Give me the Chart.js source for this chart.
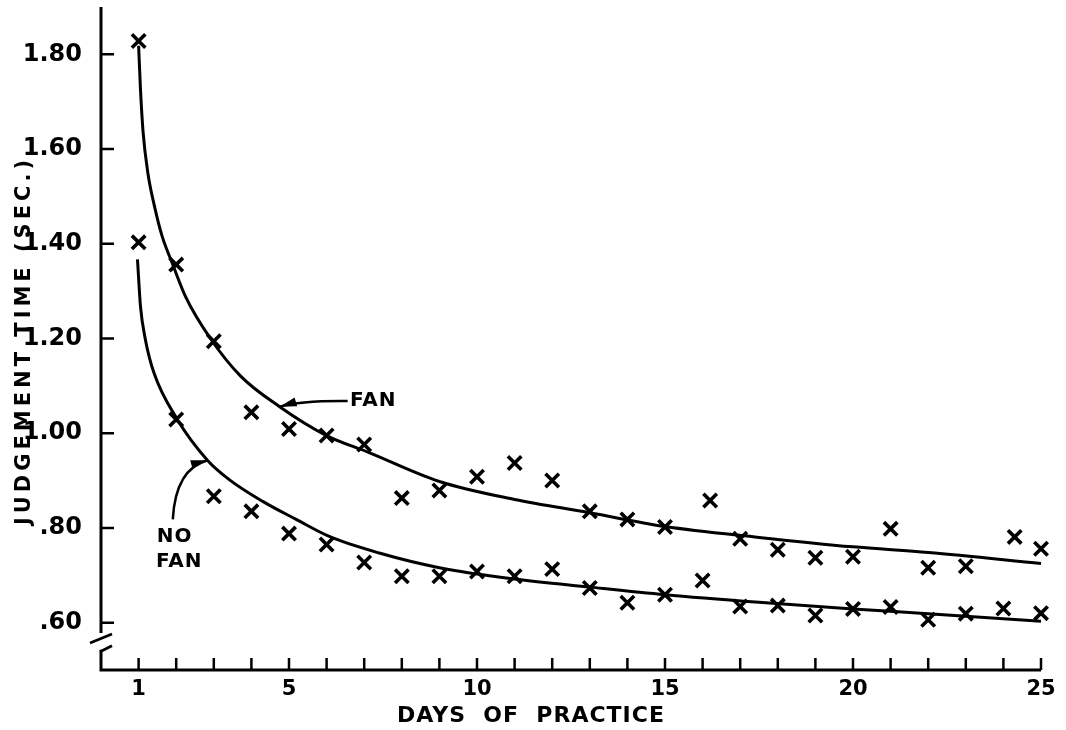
<!DOCTYPE html>
<html>
<head>
<meta charset="utf-8">
<script src="https://cdn.jsdelivr.net/npm/chart.js@4.4.1/dist/chart.umd.min.js"></script>
<style>
  html, body { margin: 0; padding: 0; background: #fff; }
  #wrap { width: 1066px; height: 730px; position: relative; }
</style>
</head>
<body>
<div id="wrap"><canvas id="practiceChart"></canvas></div>
<script>

/* =========================
   DATA
========================= */

const fanDays = [1, 2, 3, 4, 5, 6, 7, 8, 9, 10, 11, 12, 13, 14, 15, 16.2, 17, 18, 19, 20, 21, 22, 23, 24.3, 25];
const fanTimes = [1.828, 1.356, 1.194, 1.044, 1.009, 0.995, 0.976, 0.863, 0.879, 0.908, 0.937, 0.900, 0.835,
                  0.818, 0.802, 0.858, 0.777, 0.754, 0.737, 0.739, 0.798, 0.716, 0.719, 0.781, 0.756];

const noFanDays = [1, 2, 3, 4, 5, 6, 7, 8, 9, 10, 11, 12, 13, 14, 15, 16, 17, 18, 19, 20, 21, 22, 23, 24, 25];
const noFanTimes = [1.403, 1.029, 0.867, 0.835, 0.788, 0.765, 0.727, 0.698, 0.698, 0.708, 0.698, 0.713, 0.673,
                    0.642, 0.659, 0.689, 0.634, 0.636, 0.615, 0.629, 0.633, 0.606, 0.619, 0.630, 0.620];

// fitted curves
const fanCurveDays = [1.0, 1.05, 1.12, 1.245, 1.42, 1.625, 1.89, 2.245, 2.91, 3.72, 4.75, 6.0, 7.1, 9.0,
                      11, 13, 15, 17.5, 20, 22, 25];
const fanCurveTimes = [1.818, 1.726, 1.635, 1.550, 1.480, 1.416, 1.360, 1.289, 1.200, 1.120, 1.056, 0.995,
                       0.960, 0.898, 0.860, 0.832, 0.803, 0.780, 0.760, 0.748, 0.725];

const noFanCurveDays = [0.97, 1.05, 1.18, 1.41, 2.03, 2.83, 3.41, 4.3, 5.19, 6.07, 7.4, 9, 11, 13, 15, 17.5, 20, 22, 25];
const noFanCurveTimes = [1.367, 1.268, 1.198, 1.127, 1.029, 0.943, 0.902, 0.856, 0.818, 0.782, 0.747, 0.716,
                         0.692, 0.675, 0.659, 0.643, 0.629, 0.619, 0.603];

const xTickValues = [1, 5, 10, 15, 20, 25];
const xTickLabels = ['1', '5', '10', '15', '20', '25'];
const yTickValues = [0.6, 0.8, 1.0, 1.2, 1.4, 1.6, 1.8];
const yTickLabels = ['.60', '.80', '1.00', '1.20', '1.40', '1.60', '1.80'];

const xTitle = 'DAYS  OF  PRACTICE';
const yTitle = 'JUDGEMENT TIME (SEC.)';

/* =========================
   HELPERS
========================= */

const INK = '#000';
const FONT = '"DejaVu Sans", sans-serif';

function toPoints(xs, ys){
    return xs.map((x, i) => ({ x: x, y: ys[i] }));
}

function noScalePadding(s){
    s.paddingTop = 0;
    s.paddingBottom = 0;
    s.paddingLeft = 0;
    s.paddingRight = 0;
}

/* =========================
   AXES, TICKS, NOTES
========================= */

const figurePlugin = {
    id: 'figure',
    afterDraw(chart){
        const ctx = chart.ctx;
        const a = chart.chartArea;
        const xs = chart.scales.x;
        const ys = chart.scales.y;

        ctx.save();
        ctx.strokeStyle = INK;
        ctx.fillStyle = INK;
        ctx.lineCap = 'butt';

        // axis lines (y axis broken just below .60)
        ctx.lineWidth = 3;
        const breakTop = ys.getPixelForValue(0.578);
        const breakBottom = ys.getPixelForValue(0.543);
        ctx.beginPath();
        ctx.moveTo(a.left, ys.getPixelForValue(1.9));
        ctx.lineTo(a.left, breakTop);
        ctx.moveTo(a.left, breakBottom);
        ctx.lineTo(a.left, a.bottom);
        ctx.lineTo(a.right, a.bottom);
        ctx.stroke();

        // break marks
        ctx.lineWidth = 2.8;
        ctx.beginPath();
        ctx.moveTo(a.left - 11, breakTop + 10);
        ctx.lineTo(a.left + 11, breakTop + 1);
        ctx.moveTo(a.left - 1, breakBottom + 2);
        ctx.lineTo(a.left + 11, breakBottom - 4);
        ctx.stroke();

        // y ticks, pointing inward
        ctx.lineWidth = 2.5;
        ctx.beginPath();
        yTickValues.forEach(v => {
            const py = ys.getPixelForValue(v);
            ctx.moveTo(a.left, py);
            ctx.lineTo(a.left + 13, py);
        });
        // x ticks on every day, pointing up
        for(let d = 1; d <= 25; d++){
            const px = xs.getPixelForValue(d);
            ctx.moveTo(px, a.bottom);
            ctx.lineTo(px, a.bottom - 12);
        }
        ctx.stroke();

        // axis titles
        ctx.font = 'bold 22px ' + FONT;
        ctx.letterSpacing = '1px';
        ctx.textAlign = 'center';
        ctx.textBaseline = 'middle';
        ctx.fillText(xTitle, a.left + 430, a.bottom + 46);

        ctx.save();
        ctx.translate(25, ys.getPixelForValue(1.2) + 2);
        ctx.rotate(-Math.PI / 2);
        ctx.font = 'bold 21px ' + FONT;
        ctx.letterSpacing = '4px';
        ctx.fillText(yTitle, 0, 0);
        ctx.restore();

        // curve labels with arrows
        ctx.letterSpacing = '1px';
        ctx.font = 'bold 20px ' + FONT;
        ctx.textAlign = 'left';
        ctx.fillText('FAN', xs.getPixelForValue(6.62), ys.getPixelForValue(1.069));
        ctx.fillText('NO', xs.getPixelForValue(1.48), ys.getPixelForValue(0.782));
        ctx.fillText('FAN', xs.getPixelForValue(1.46), ys.getPixelForValue(0.729));

        drawArrow(ctx, xs, ys, [6.56, 1.068], [5.3, 1.069], [4.75, 1.056]);
        drawArrow(ctx, xs, ys, [1.91, 0.818], [1.98, 0.925], [2.84, 0.943]);

        ctx.restore();
    }
};

function drawArrow(ctx, xs, ys, from, ctrl, tip){
    const p0 = [xs.getPixelForValue(from[0]), ys.getPixelForValue(from[1])];
    const p1 = [xs.getPixelForValue(ctrl[0]), ys.getPixelForValue(ctrl[1])];
    const p2 = [xs.getPixelForValue(tip[0]), ys.getPixelForValue(tip[1])];

    ctx.lineWidth = 2.5;
    ctx.beginPath();
    ctx.moveTo(p0[0], p0[1]);
    ctx.quadraticCurveTo(p1[0], p1[1], p2[0], p2[1]);
    ctx.stroke();

    const ang = Math.atan2(p2[1] - p1[1], p2[0] - p1[0]);
    const len = 17, half = 4.5;
    const bx = p2[0] - Math.cos(ang) * len;
    const by = p2[1] - Math.sin(ang) * len;
    ctx.beginPath();
    ctx.moveTo(p2[0], p2[1]);
    ctx.lineTo(bx - Math.sin(ang) * half, by + Math.cos(ang) * half);
    ctx.lineTo(bx + Math.sin(ang) * half, by - Math.cos(ang) * half);
    ctx.closePath();
    ctx.fill();
}

/* =========================
   CHART
========================= */

const markerStyle = {
    showLine: false,
    pointStyle: 'crossRot',
    pointRadius: 9.5,
    pointBorderWidth: 3.6,
    pointBorderColor: INK,
    pointBackgroundColor: INK,
    clip: false
};

const curveStyle = {
    showLine: true,
    pointRadius: 0,
    borderColor: INK,
    borderWidth: 3,
    cubicInterpolationMode: 'monotone',
    fill: false,
    clip: false
};

new Chart(document.getElementById('practiceChart'), {

    type: 'scatter',

    data: {
        datasets: [
            Object.assign({ label: 'Fan (fit)', data: toPoints(fanCurveDays, fanCurveTimes) }, curveStyle),
            Object.assign({ label: 'No fan (fit)', data: toPoints(noFanCurveDays, noFanCurveTimes) }, curveStyle),
            Object.assign({ label: 'Fan', data: toPoints(fanDays, fanTimes) }, markerStyle),
            Object.assign({ label: 'No fan', data: toPoints(noFanDays, noFanTimes) }, markerStyle)
        ]
    },

    options: {
        responsive: true,
        maintainAspectRatio: false,
        animation: false,
        layout: {
            padding: { top: 2, right: 25, left: 0, bottom: 0 }
        },
        plugins: {
            legend: { display: false },
            tooltip: { enabled: false }
        },
        scales: {
            x: {
                type: 'linear',
                min: 0,
                max: 25,
                grid: { display: false, drawTicks: false },
                border: { display: false },
                afterFit: s => { s.height = 60; noScalePadding(s); },
                afterBuildTicks: s => { s.ticks = xTickValues.map(v => ({ value: v })); },
                ticks: {
                    autoSkip: false,
                    maxRotation: 0,
                    padding: 7,
                    color: INK,
                    font: { family: FONT, size: 21, weight: 'bold' },
                    callback: (value, index) => xTickLabels[index]
                }
            },
            y: {
                type: 'linear',
                min: 0.5,
                max: 1.887,
                grid: { display: false, drawTicks: false },
                border: { display: false },
                afterFit: s => { s.width = 101; noScalePadding(s); },
                afterBuildTicks: s => { s.ticks = yTickValues.map(v => ({ value: v })); },
                ticks: {
                    padding: 19,
                    color: INK,
                    font: { family: FONT, size: 24, weight: 'bold' },
                    callback: (value, index) => yTickLabels[index]
                }
            }
        }
    },

    plugins: [figurePlugin]

});

</script>
</body>
</html>
